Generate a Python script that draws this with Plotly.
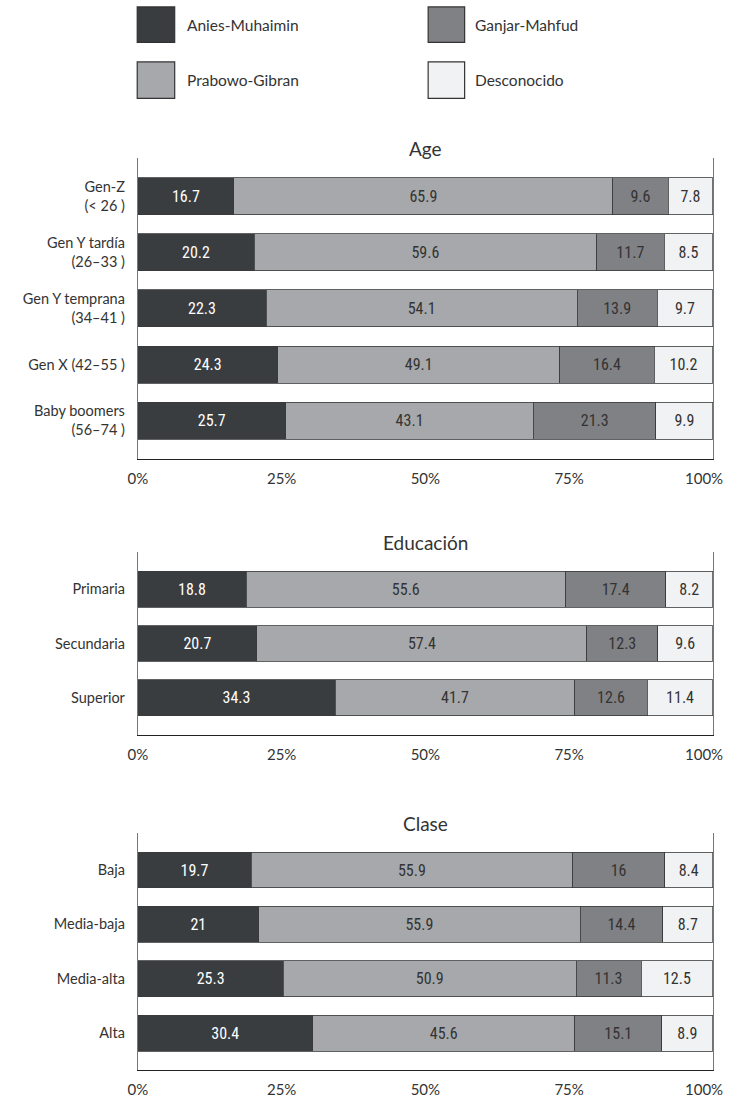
import plotly.graph_objects as go

# ---------------- data ----------------
series_names = ["Anies-Muhaimin", "Prabowo-Gibran", "Ganjar-Mahfud", "Desconocido"]

age_title = "Age"
age_cats = ["Gen-Z<br>(< 26 )", "Gen Y tardía<br>(26–33 )", "Gen Y temprana<br>(34–41 )",
            "Gen X (42–55 )", "Baby boomers<br>(56–74 )"]
age_anies = [16.7, 20.2, 22.3, 24.3, 25.7]
age_prabowo = [65.9, 59.6, 54.1, 49.1, 43.1]
age_ganjar = [9.6, 11.7, 13.9, 16.4, 21.3]
age_desc = [7.8, 8.5, 9.7, 10.2, 9.9]

edu_title = "Educación"
edu_cats = ["Primaria", "Secundaria", "Superior"]
edu_anies = [18.8, 20.7, 34.3]
edu_prabowo = [55.6, 57.4, 41.7]
edu_ganjar = [17.4, 12.3, 12.6]
edu_desc = [8.2, 9.6, 11.4]

cls_title = "Clase"
cls_cats = ["Baja", "Media-baja", "Media-alta", "Alta"]
cls_anies = [19.7, 21, 25.3, 30.4]
cls_prabowo = [55.9, 55.9, 50.9, 45.6]
cls_ganjar = [16, 14.4, 11.3, 15.1]
cls_desc = [8.4, 8.7, 12.5, 8.9]

x_tickvals = [0, 25, 50, 75, 100]
x_ticktext = ["0%", "25%", "50%", "75%", "100%"]

# ---------------- style ----------------
PAGE_W = 741
W, H = 725, 1098
OFF_X = (PAGE_W - W) / 2   # figure is placed centred horizontally on the page
SY = 0.985                 # slight vertical compression so the bottom labels fit
colors = ["#3a3d40", "#a7a8ab", "#808184", "#f1f2f3"]
text_colors = ["#ffffff", "#333333", "#333333", "#333333"]
FONT = "Lato, 'Open Sans', sans-serif"
BARFONT = "'Liberation Sans Narrow', 'Roboto Condensed', 'DejaVu Sans Condensed', Lato, sans-serif"


def px_x(x):
    return (x - OFF_X) / W


def px_y(y):
    return 1 - (y * SY) / H


x_dom = [px_x(137.7), px_x(720.7)]
panels = [
    (age_title, age_cats, [age_anies, age_prabowo, age_ganjar, age_desc], (160.7, 466.7)),
    (edu_title, edu_cats, [edu_anies, edu_prabowo, edu_ganjar, edu_desc], (561.7, 747.3)),
    (cls_title, cls_cats, [cls_anies, cls_prabowo, cls_ganjar, cls_desc], (847.3, 1088.3)),
]

fig = go.Figure()
annotations = []
shapes = []
layout = {}

for i, (title, cats, series, (ytop, ybot)) in enumerate(panels):
    k = "" if i == 0 else str(i + 1)
    for s, vals in enumerate(series):
        fig.add_trace(go.Bar(
            y=cats, x=vals, orientation="h",
            name=series_names[s], showlegend=False,
            marker=dict(color=colors[s], line=dict(color="#3a3a3a", width=0.8)),
            text=[f"{v:g}" for v in vals],
            textposition="inside", insidetextanchor="middle", textangle=0,
            textfont=dict(family=BARFONT, size=16, color=text_colors[s]),
            width=0.66,
            xaxis="x" + k, yaxis="y" + k,
            hoverinfo="skip",
        ))
    n = len(cats)
    # last tick label is drawn as an annotation so it is not dropped at the page edge
    layout["xaxis" + k] = dict(
        domain=x_dom, anchor="y" + k, range=[0, 100],
        tickvals=x_tickvals[:-1], ticktext=x_ticktext[:-1],
        showgrid=False, zeroline=False, showline=True, linecolor="#222222", linewidth=1,
        ticks="", ticklabelstandoff=6,
        tickfont=dict(family=FONT, size=15, color="#333333"),
        fixedrange=True,
    )
    layout["yaxis" + k] = dict(
        domain=[px_y(ybot), px_y(ytop)], anchor="x" + k,
        type="category", categoryorder="array", categoryarray=cats,
        range=[n - 1 + 0.68, -0.68],
        showgrid=False, zeroline=False, showline=True, mirror=True,
        linecolor="#777777", linewidth=1.2,
        ticks="", ticklabelstandoff=9,
        tickfont=dict(family=FONT, size=14.5, color="#333333"),
        fixedrange=True,
    )
    annotations.append(dict(
        text=x_ticktext[-1], xref="paper", yref="y" + k + " domain",
        x=1, y=0, xanchor="right", yanchor="top", yshift=-8,
        showarrow=False, font=dict(family=FONT, size=15, color="#333333"),
    ))
    annotations.append(dict(
        text=title, xref="paper", yref="paper",
        x=(x_dom[0] + x_dom[1]) / 2, y=px_y(ytop), xanchor="center", yanchor="bottom",
        yshift=-4, showarrow=False,
        font=dict(family=FONT, size=19, color="#333333"),
    ))

# legend drawn as boxes + labels
legend_items = [
    (0, 137, 7, 175, 43, 185, 25),
    (2, 432, 7, 469, 43, 477, 25),
    (1, 137, 63, 175, 100, 185, 81),
    (3, 432, 63, 469, 100, 477, 81),
]
for s, x0, y0, x1, y1, tx, ty in legend_items:
    shapes.append(dict(
        type="rect", xref="paper", yref="paper",
        x0=px_x(x0), x1=px_x(x1), y0=px_y(y1), y1=px_y(y0),
        fillcolor=colors[s], line=dict(color="#333333", width=1.2),
    ))
    annotations.append(dict(
        text=series_names[s], xref="paper", yref="paper",
        x=px_x(tx), y=px_y(ty), xanchor="left", yanchor="middle",
        showarrow=False, font=dict(family=FONT, size=15.5, color="#333333"),
    ))

fig.update_layout(
    width=W, height=H,
    margin=dict(l=0, r=0, t=0, b=0),
    paper_bgcolor="white", plot_bgcolor="white",
    barmode="stack", bargap=0.34,
    annotations=annotations, shapes=shapes,
    font=dict(family=FONT, color="#333333"),
    **layout,
)

fig.write_html("out.html")
